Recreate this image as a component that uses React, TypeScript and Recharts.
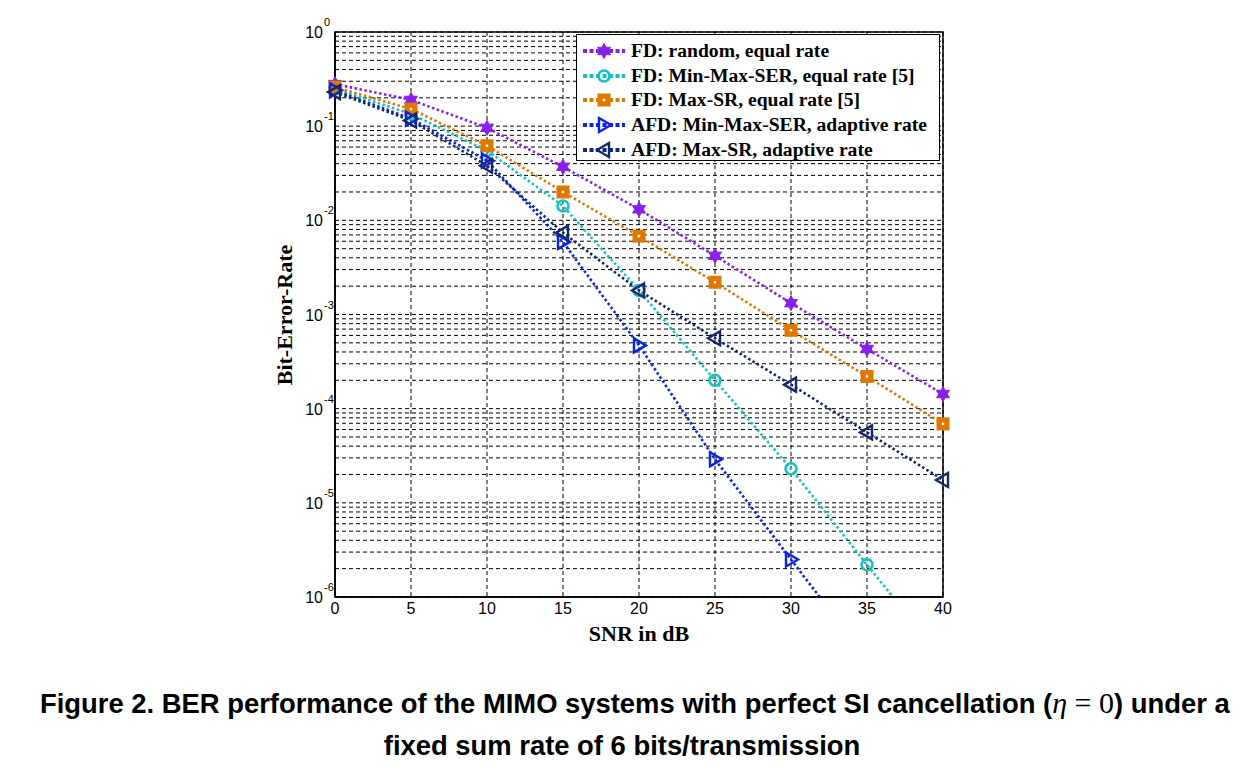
import React from 'react';
import {
	CartesianGrid,
	Legend,
	Line,
	LineChart,
	ReferenceArea,
	XAxis,
	YAxis,
} from 'recharts';

// SNR points (dB)
const snr = [0, 5, 10, 15, 20, 25, 30, 35, 40];

// BER
const fdRandom = [0.28, 0.19, 0.096, 0.037, 0.0131, 0.0042, 0.00132, 0.00043, 0.000143];
const fdMinMaxSer = [0.25, 0.135, 0.055, 0.0142, 0.0018, 0.0002, 2.3e-5, 2.2e-6, 2.2e-7];
const fdMaxSr = [0.26, 0.152, 0.062, 0.02, 0.0068, 0.0022, 0.00068, 0.00022, 6.9e-5];
const afdMinMaxSer = [0.24, 0.12, 0.043, 0.0059, 0.00047, 2.9e-5, 2.5e-6, 2.2e-7, null];
const afdMaxSr = [0.23, 0.115, 0.038, 0.0074, 0.0018, 0.00056, 0.00018, 5.6e-5, 1.75e-5];

const xTicks = [0, 5, 10, 15, 20, 25, 30, 35, 40];
const decades = [-6, -5, -4, -3, -2, -1];

const data = snr.map((s, i) => ({
	snr: s,
	fdRandom: fdRandom[i],
	fdMinMaxSer: fdMinMaxSer[i],
	fdMaxSr: fdMaxSr[i],
	afdMinMaxSer: afdMinMaxSer[i],
	afdMaxSr: afdMaxSr[i],
}));

// major + minor log ticks so the grid gets the minor dashed lines too
const yTicks: number[] = [];
decades.forEach((d) => {
	for (let k = 1; k <= 9; k++) yTicks.push(k * Math.pow(10, d));
});
yTicks.push(1);

type MarkerKind = 'hex' | 'circle' | 'square' | 'right' | 'left';

const series: { key: string; name: string; color: string; marker: MarkerKind }[] = [
	{ key: 'fdRandom', name: 'FD: random, equal rate', color: '#8a1fec', marker: 'hex' },
	{ key: 'fdMinMaxSer', name: 'FD: Min-Max-SER, equal rate [5]', color: '#14c2c2', marker: 'circle' },
	{ key: 'fdMaxSr', name: 'FD: Max-SR, equal rate [5]', color: '#e07800', marker: 'square' },
	{ key: 'afdMinMaxSer', name: 'AFD: Min-Max-SER, adaptive rate', color: '#0a22f0', marker: 'right' },
	{ key: 'afdMaxSr', name: 'AFD: Max-SR, adaptive rate', color: '#14296b', marker: 'left' },
];

const serif = "'Liberation Serif', 'Times New Roman', serif";
const sans = "'Liberation Sans', Arial, sans-serif";

function Marker({ cx, cy, kind, color }: { cx: number; cy: number; kind: MarkerKind; color: string }) {
	if (cx == null || cy == null || isNaN(cx) || isNaN(cy)) return null;
	if (kind === 'hex') {
		const pts: string[] = [];
		for (let i = 0; i < 12; i++) {
			const r = i % 2 === 0 ? 7.5 : 4.2;
			const a = (Math.PI / 6) * i - Math.PI / 2;
			pts.push(`${cx + r * Math.cos(a)},${cy + r * Math.sin(a)}`);
		}
		return <polygon points={pts.join(' ')} fill={color} stroke={color} strokeWidth={1} />;
	}
	if (kind === 'circle') {
		return <circle cx={cx} cy={cy} r={5.5} fill="none" stroke={color} strokeWidth={2.6} />;
	}
	if (kind === 'square') {
		return (
			<g>
				<rect x={cx - 6.5} y={cy - 6.5} width={13} height={13} fill={color} />
				<rect x={cx - 1.2} y={cy - 1.2} width={2.4} height={2.4} fill="#fff" />
			</g>
		);
	}
	if (kind === 'right') {
		return (
			<polygon
				points={`${cx - 5},${cy - 7} ${cx + 7},${cy} ${cx - 5},${cy + 7}`}
				fill="none"
				stroke={color}
				strokeWidth={2.4}
			/>
		);
	}
	return (
		<polygon
			points={`${cx + 5},${cy - 7} ${cx - 7},${cy} ${cx + 5},${cy + 7}`}
			fill="none"
			stroke={color}
			strokeWidth={2.4}
		/>
	);
}

function YTick({ x, y, payload }: any) {
	const v = payload.value as number;
	const exp = Math.round(Math.log10(v));
	if (Math.abs(v / Math.pow(10, exp) - 1) > 1e-6) return null;
	return (
		<g fill="#000" fontFamily={sans}>
			<text x={x - 4} y={y + 6} textAnchor="end" fontSize={16}>
				10
			</text>
			<text x={x - 3} y={y - 6} textAnchor="start" fontSize={11}>
				{exp}
			</text>
		</g>
	);
}

function XTick({ x, y, payload }: any) {
	return (
		<text x={x} y={y + 9} textAnchor="middle" fontSize={16} fill="#000" fontFamily={sans}>
			{payload.value}
		</text>
	);
}

function LegendBox() {
	return (
		<div
			style={{
				width: 362,
				height: 121,
				border: '1px solid #000',
				background: '#fff',
				boxSizing: 'content-box',
				paddingTop: 4,
			}}
		>
			{series.map((s) => (
				<div key={s.key} style={{ display: 'flex', alignItems: 'center', height: 24.6 }}>
					<svg width={54} height={20} style={{ flexShrink: 0 }}>
						<line x1={6} y1={10} x2={48} y2={10} stroke={s.color} strokeWidth={4} strokeDasharray="4 2.5" />
						<Marker cx={27} cy={10} kind={s.marker} color={s.color} />
					</svg>
					<span
						style={{
							fontFamily: serif,
							fontWeight: 'bold',
							fontSize: 19.6,
							color: '#000',
							whiteSpace: 'nowrap',
						}}
					>
						{s.name}
					</span>
				</div>
			))}
		</div>
	);
}

export default function App() {
	return (
		<div style={{ width: 1228, background: '#fff' }}>
			<LineChart width={980} height={660} data={data} margin={{ top: 24, right: 45, bottom: 21, left: 267 }}>
				<CartesianGrid stroke="#000" strokeDasharray="4 3" strokeWidth={1} />
				<XAxis
					dataKey="snr"
					type="number"
					domain={[0, 40]}
					ticks={xTicks}
					tick={<XTick />}
					tickLine={false}
					axisLine={{ stroke: '#000', strokeWidth: 1.5 }}
					height={50}
					label={{
						content: ({ viewBox }: any) => (
							<text
								x={viewBox.x + viewBox.width / 2}
								y={633}
								textAnchor="middle"
								fontSize={22}
								fontWeight="bold"
								fontFamily={serif}
								fill="#000"
							>
								SNR in dB
							</text>
						),
					}}
				/>
				<YAxis
					scale="log"
					domain={[1e-6, 1]}
					allowDataOverflow
					ticks={yTicks}
					interval={0}
					tick={<YTick />}
					tickLine={false}
					axisLine={{ stroke: '#000', strokeWidth: 1.5 }}
					width={60}
					label={{
						content: () => (
							<text
								x={0}
								y={0}
								transform="translate(284, 307) rotate(-90)"
								textAnchor="middle"
								fontSize={22}
								fontWeight="bold"
								fontFamily={serif}
								fill="#000"
							>
								Bit-Error-Rate
							</text>
						),
					}}
				/>
				<ReferenceArea x1={0} x2={40} y1={1e-6} y2={1} fill="none" stroke="#000" strokeWidth={1.5} />
				{series.map((s) => (
					<Line
						key={s.key}
						dataKey={s.key}
						name={s.name}
						stroke={s.color}
						strokeWidth={2.6}
						strokeDasharray="2.5 2.5"
						isAnimationActive={false}
						dot={(p: any) => <Marker key={`${s.key}-${p.index}`} cx={p.cx} cy={p.cy} kind={s.marker} color={s.color} />}
						activeDot={false}
					/>
				))}
				<Legend
					layout="vertical"
					align="center"
					verticalAlign="middle"
					content={<LegendBox />}
					wrapperStyle={{ position: 'absolute', left: 568, top: 26, width: 'auto' }}
				/>
			</LineChart>
			<div
				style={{
					marginTop: 14,
					fontFamily: sans,
					fontWeight: 'bold',
					fontSize: 27.4,
					lineHeight: '42px',
					color: '#000',
				}}
			>
				<div style={{ whiteSpace: 'nowrap', paddingLeft: 32 }}>
					Figure 2. BER performance of the MIMO systems with perfect SI cancellation (
					<span style={{ fontFamily: serif, fontWeight: 'normal', fontSize: 30 }}>
						<i>η</i> = 0
					</span>
					) under a
				</div>
				<div style={{ textAlign: 'center' }}>fixed sum rate of 6 bits/transmission</div>
			</div>
		</div>
	);
}
